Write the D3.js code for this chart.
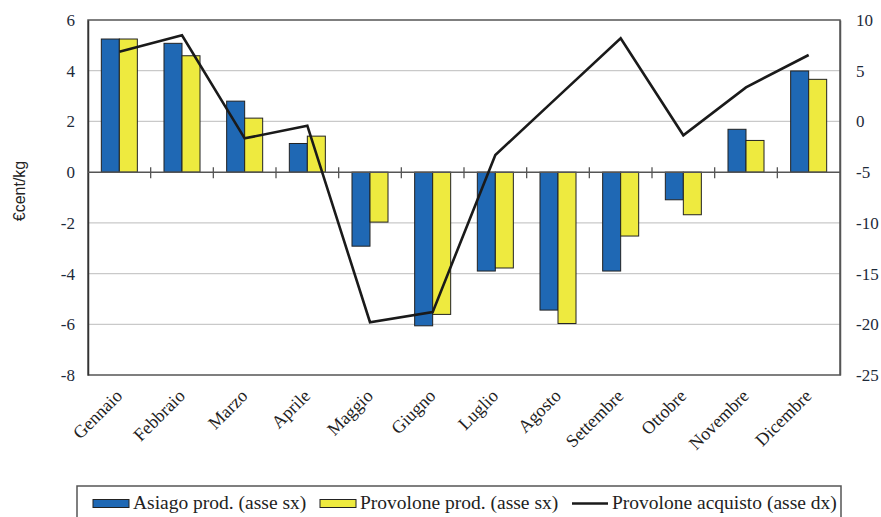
<!DOCTYPE html>
<html>
<head>
<meta charset="utf-8">
<script src="https://cdn.jsdelivr.net/npm/d3@7"></script>
<style>
  html, body { margin: 0; padding: 0; background: #fff; }
  svg { display: block; font-family: "Liberation Serif", "Times New Roman", serif; }
</style>
</head>
<body>
<svg id="chart" width="881" height="517"></svg>
<script>
// Monthly price differences (€cent/kg) and purchase price change (right axis)
const months = ["Gennaio", "Febbraio", "Marzo", "Aprile", "Maggio", "Giugno",
                "Luglio", "Agosto", "Settembre", "Ottobre", "Novembre", "Dicembre"];
const asiagoProd = [5.25, 5.08, 2.80, 1.13, -2.92, -6.06, -3.90, -5.44, -3.90, -1.09, 1.69, 3.99];
const provoloneProd = [5.25, 4.59, 2.13, 1.42, -1.97, -5.61, -3.78, -5.97, -2.52, -1.68, 1.25, 3.66];
const provoloneAcquisto = [6.87, 8.49, -1.67, -0.42, -19.8, -18.8, -3.31, 2.45, 8.19, -1.37, 3.36, 6.55];
const leftTicks = [-8, -6, -4, -2, 0, 2, 4, 6];
const rightTicks = [-25, -20, -15, -10, -5, 0, 5, 10];
const seriesNames = ["Asiago prod. (asse sx)", "Provolone prod. (asse sx)", "Provolone acquisto (asse dx)"];

const colors = { asiago: "#1f68b4", provolone: "#eeea3f", line: "#1a1a1a" };
const fmt = d => String(d); // plain hyphen-minus for negatives

const svg = d3.select("#chart");
const plot = { left: 88, right: 840, top: 20, bottom: 375 };

const x = d3.scaleBand().domain(months).range([plot.left, plot.right]).paddingInner(0).paddingOuter(0);
const xSub = d3.scaleBand().domain(["asiago", "provolone"]).range([0, x.bandwidth()]).paddingInner(0).paddingOuter(0.74);
const yL = d3.scaleLinear().domain([-8, 6]).range([plot.bottom, plot.top]);
const yR = d3.scaleLinear().domain([-25, 10]).range([plot.bottom, plot.top]);

// horizontal gridlines
svg.append("g").selectAll("line")
  .data(leftTicks.filter(t => t !== 0 && t !== 6 && t !== -8))
  .join("line")
  .attr("x1", plot.left).attr("x2", plot.right)
  .attr("y1", d => yL(d)).attr("y2", d => yL(d))
  .attr("stroke", "#c9c9c9").attr("stroke-width", 1.2);

// plot frame
svg.append("rect")
  .attr("x", plot.left).attr("y", plot.top)
  .attr("width", plot.right - plot.left).attr("height", plot.bottom - plot.top)
  .attr("fill", "none").attr("stroke", "#555").attr("stroke-width", 1.5);

// left axis
const axL = svg.append("g").attr("transform", `translate(${plot.left},0)`)
  .call(d3.axisLeft(yL).tickValues(leftTicks).tickSize(0).tickPadding(13).tickFormat(fmt));
axL.select(".domain").attr("stroke", "#333").attr("stroke-width", 1.5);
axL.selectAll("text").attr("font-size", 17).attr("fill", "#1e2a3a").attr("font-family", "Liberation Serif");

// right axis
const axR = svg.append("g").attr("transform", `translate(${plot.right},0)`)
  .call(d3.axisRight(yR).tickValues(rightTicks).tickSize(0).tickPadding(16).tickFormat(fmt));
axR.select(".domain").attr("stroke", "#555").attr("stroke-width", 1.5);
axR.selectAll("text").attr("font-size", 17).attr("fill", "#1e2a3a").attr("font-family", "Liberation Serif");

// bars
const groups = svg.append("g").selectAll("g")
  .data(months.map((m, i) => ({ m, asiago: asiagoProd[i], provolone: provoloneProd[i] })))
  .join("g")
  .attr("transform", d => `translate(${x(d.m)},0)`);

groups.selectAll("rect")
  .data(d => ["asiago", "provolone"].map(k => ({ k, v: d[k] })))
  .join("rect")
  .attr("x", d => xSub(d.k))
  .attr("width", xSub.bandwidth())
  .attr("y", d => yL(Math.max(0, d.v)))
  .attr("height", d => Math.abs(yL(d.v) - yL(0)))
  .attr("fill", d => colors[d.k])
  .attr("stroke", "#222").attr("stroke-width", 1);

// zero line with category ticks
svg.append("line")
  .attr("x1", plot.left).attr("x2", plot.right)
  .attr("y1", yL(0)).attr("y2", yL(0))
  .attr("stroke", "#555").attr("stroke-width", 1.5);
svg.append("g").selectAll("line")
  .data(months.slice(1))
  .join("line")
  .attr("x1", d => x(d)).attr("x2", d => x(d))
  .attr("y1", yL(0) - 5).attr("y2", yL(0) + 6)
  .attr("stroke", "#555").attr("stroke-width", 1.3);

// purchase price line on the right axis
const line = d3.line()
  .x((d, i) => x(months[i]) + x.bandwidth() / 2)
  .y(d => yR(d));
svg.append("path")
  .datum(provoloneAcquisto)
  .attr("d", line)
  .attr("fill", "none")
  .attr("stroke", colors.line)
  .attr("stroke-width", 2.6)
  .attr("stroke-linejoin", "miter");

// month labels
svg.append("g").selectAll("text")
  .data(months)
  .join("text")
  .attr("transform", d => `translate(${x(d) + x.bandwidth() / 2 + 4},${plot.bottom + 22}) rotate(-45)`)
  .attr("text-anchor", "end")
  .attr("font-size", 18)
  .attr("fill", "#222")
  .text(d => d);

// y axis title
svg.append("text")
  .attr("transform", `translate(25,191) rotate(-90)`)
  .attr("text-anchor", "middle")
  .attr("font-family", "Liberation Sans, Arial, sans-serif")
  .attr("font-size", 16)
  .attr("fill", "#222")
  .text("€cent/kg");

// legend
const lg = svg.append("g");
lg.append("rect")
  .attr("x", 77).attr("y", 486)
  .attr("width", 764).attr("height", 40)
  .attr("fill", "#fff").attr("stroke", "#555").attr("stroke-width", 1.5);

const legendItems = [
  { name: seriesNames[0], type: "bar", color: colors.asiago, x: 93 },
  { name: seriesNames[1], type: "bar", color: colors.provolone, x: 320 },
  { name: seriesNames[2], type: "line", color: colors.line, x: 572 }
];
legendItems.forEach(it => {
  if (it.type === "bar") {
    lg.append("rect").attr("x", it.x).attr("y", 499.5).attr("width", 36).attr("height", 8)
      .attr("fill", it.color).attr("stroke", "#222").attr("stroke-width", 1);
  } else {
    lg.append("line").attr("x1", it.x).attr("x2", it.x + 36).attr("y1", 503.5).attr("y2", 503.5)
      .attr("stroke", it.color).attr("stroke-width", 2.6);
  }
  lg.append("text").attr("x", it.x + 40).attr("y", 509)
    .attr("font-size", 19.5).attr("fill", "#222")
    .text(it.name);
});
</script>
</body>
</html>
